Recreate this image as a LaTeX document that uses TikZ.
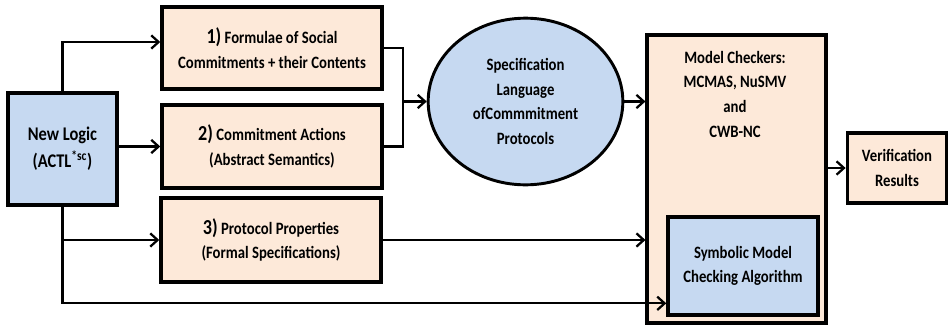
\documentclass[tikz,border=0pt]{standalone}
\usepackage{fontspec}
\setmainfont{Carlito}[FakeStretch=0.85]
\usepackage{tikz}
\usetikzlibrary{arrows, arrows.meta, shapes.geometric}

\definecolor{peach}{HTML}{FDE9D9}
\definecolor{paleblue}{HTML}{C6D9F1}

\begin{document}
\begin{tikzpicture}[x=0.75pt,y=-0.75pt,inner sep=0pt,>={Straight Barb[length=5.5pt,width=10pt]},
  txt/.style={align=center,font=\bfseries\fontsize{13}{18.5}\selectfont},
  box/.style={txt,draw,line width=2.6pt,fill=peach},
  bluebox/.style={box,fill=paleblue},
  link/.style={line width=1.7pt}]
\useasboundingbox (0,0) rectangle (949,325);
\node [bluebox,minimum width=81.75pt,minimum height=84pt,font=\bfseries\fontsize{14.5}{20}\selectfont] (logic) at (62.5,149) {New Logic\\(ACTL\textsuperscript{*sc})};
\node [box,minimum width=165pt,minimum height=61.5pt] (f1) at (272,48) {\textbf{\fontsize{16}{18}\selectfont 1)} Formulae of Social\\Commitments + their Contents};
\node [box,minimum width=165pt,minimum height=62pt] (f2) at (272,146.5) {\textbf{\fontsize{16}{18}\selectfont 2)} Commitment Actions\\(Abstract Semantics)};
\node [box,minimum width=165pt,minimum height=63pt] (f3) at (271,240) {\textbf{\fontsize{16}{18}\selectfont 3)} Protocol Properties\\(Formal Specifications)};
\node [txt,draw,ellipse,line width=2.2pt,fill=paleblue,minimum width=146pt,minimum height=125pt] (spec) at (525.5,101.5) {Specification\\Language\\ofCommmitment\\Protocols};
\node [box,minimum width=134pt,minimum height=216pt] (mc) at (736.5,179) {};
\node [txt] (mctext) at (735,94) {Model Checkers:\\MCMAS, NuSMV\\and\\CWB-NC};
\node [bluebox,minimum width=112.5pt,minimum height=73.5pt] (sym) at (743,266) {Symbolic Model\\Checking Algorithm};
\node [box,minimum width=74.5pt,minimum height=52.5pt] (res) at (897,168) {Verification\\Results};
\coordinate (join) at (403,101.5);
% inputs from the logic
\draw [link,->] (logic.north) |- ([yshift=4.5pt]f1.west);
\draw [link,->] (logic.east |- f2.west) -- (f2.west);
\draw [link,->] (logic.south) |- ([yshift=-28pt]sym.west);
\draw [link,->] (logic.south |- f3.west) -- (f3.west);
% towards the checkers
\draw [link] (f1.east) -| (join) |- (f2.east);
\draw [link,->] (join) -- (spec.west);
\draw [link,->] (spec.east) -- (spec.east -| mc.west);
\draw [link,->] (f3.east) -- (f3.east -| mc.west);
\draw [link,->] (mc.east |- res.west) -- (res.west);
\end{tikzpicture}
\end{document}
